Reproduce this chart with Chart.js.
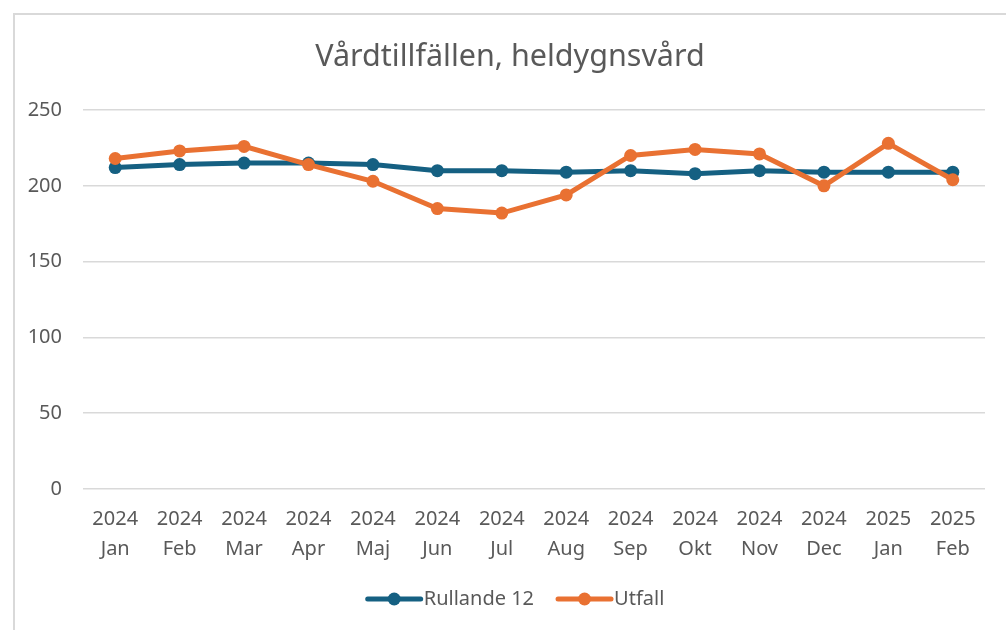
<!DOCTYPE html>
<html lang="sv">
<head>
<meta charset="utf-8">
<title>Vårdtillfällen, heldygnsvård</title>
<script src="https://cdn.jsdelivr.net/npm/chart.js@4.4.1/dist/chart.umd.min.js"></script>
<style>
  html, body { margin: 0; padding: 0; background: #fff; }
  body { width: 1006px; height: 630px; position: relative; overflow: hidden; }
  .frame {
    position: absolute; left: 13px; top: 13px; width: 1100px; height: 700px;
    border-left: 2px solid #d9d9d9; border-top: 2px solid #d9d9d9;
  }
  #chart { position: absolute; left: 0; top: 0; }
</style>
</head>
<body>
<div class="frame"></div>
<canvas id="chart" width="1006" height="630"></canvas>
<script>
// Data
const years = ['2024', '2024', '2024', '2024', '2024', '2024', '2024', '2024', '2024', '2024', '2024', '2024', '2025', '2025'];
const months = ['Jan', 'Feb', 'Mar', 'Apr', 'Maj', 'Jun', 'Jul', 'Aug', 'Sep', 'Okt', 'Nov', 'Dec', 'Jan', 'Feb'];
const rullande12 = [212, 214, 215, 215, 214, 210, 210, 209, 210, 208, 210, 209, 209, 209];
const utfall = [218, 223, 226, 214, 203, 185, 182, 194, 220, 224, 221, 200, 228, 204];
const yTicks = [0, 50, 100, 150, 200, 250];

const labels = years.map((y, i) => [y, months[i]]);

const BLUE = '#156082';
const ORANGE = '#E97132';
const TEXT = '#595959';
const FONT = "'Noto Sans', sans-serif";

// Title and legend sit a bit right of the plot centre in the original
const shiftBlocks = {
    id: 'shiftBlocks',
    afterLayout(chart) {
        if (chart.titleBlock) chart.titleBlock.left += 14;
        if (chart.legend) chart.legend.left += 12;
    }
};

// Legend markers: line with a dot, like Excel
const legendLineMarker = {
    id: 'legendLineMarker',
    afterDraw(chart) {
        const legend = chart.legend;
        if (!legend || !legend.legendHitBoxes) return;
        const ctx = chart.ctx;
        legend.legendHitBoxes.forEach((box, i) => {
            const ds = chart.data.datasets[legend.legendItems[i].datasetIndex];
            const y = box.top + box.height / 2;
            const x0 = box.left + 14;
            const x1 = x0 + 53;
            ctx.save();
            ctx.strokeStyle = ds.borderColor;
            ctx.lineWidth = 5;
            ctx.lineCap = 'round';
            ctx.beginPath();
            ctx.moveTo(x0, y);
            ctx.lineTo(x1, y);
            ctx.stroke();
            ctx.fillStyle = ds.borderColor;
            ctx.beginPath();
            ctx.arc((x0 + x1) / 2, y, 6.5, 0, Math.PI * 2);
            ctx.fill();
            ctx.restore();
        });
    }
};

new Chart(document.getElementById('chart'), {
    type: 'line',
    data: {
        labels: labels,
        datasets: [{
            label: 'Rullande 12',
            data: rullande12,
            borderColor: BLUE,
            backgroundColor: BLUE,
            borderWidth: 5,
            pointRadius: 6.5,
            pointBackgroundColor: BLUE,
            pointBorderWidth: 0,
            tension: 0,
            order: 1
        }, {
            label: 'Utfall',
            data: utfall,
            borderColor: ORANGE,
            backgroundColor: ORANGE,
            borderWidth: 5,
            pointRadius: 6.5,
            pointBackgroundColor: ORANGE,
            pointBorderWidth: 0,
            tension: 0,
            order: 0
        }]
    },
    options: {
        responsive: false,
        animation: false,
        layout: { padding: { top: 0, left: 21, right: 21, bottom: 11 } },
        plugins: {
            title: {
                display: true,
                text: 'Vårdtillfällen, heldygnsvård',
                color: TEXT,
                font: { family: FONT, size: 30.5, weight: 'normal', lineHeight: 1.2 },
                padding: { top: 39, bottom: 34.4 }
            },
            legend: {
                position: 'bottom',
                labels: {
                    color: TEXT,
                    font: { family: FONT, size: 20 },
                    boxWidth: 60,
                    boxHeight: 20,
                    padding: 10,
                    sort: (a, b) => a.datasetIndex - b.datasetIndex,
                    generateLabels: chart => Chart.defaults.plugins.legend.labels.generateLabels(chart).map(l => ({
                        ...l, fillStyle: 'rgba(0,0,0,0)', strokeStyle: 'rgba(0,0,0,0)', lineWidth: 0
                    }))
                }
            },
            tooltip: { enabled: false }
        },
        scales: {
            x: {
                offset: true,
                grid: { display: false, drawTicks: false },
                border: { display: false },
                ticks: {
                    color: TEXT,
                    padding: 15,
                    maxRotation: 0,
                    autoSkip: false,
                    font: { family: FONT, size: 20, lineHeight: 1.5 }
                }
            },
            y: {
                min: 0,
                max: 250,
                afterBuildTicks: scale => { scale.ticks = yTicks.map(v => ({ value: v })); },
                afterFit: scale => { scale.width = 62; },
                grid: { color: '#d9d9d9', lineWidth: 1.5, drawTicks: false },
                border: { display: false },
                ticks: {
                    color: TEXT,
                    padding: 21,
                    font: { family: FONT, size: 20 }
                }
            }
        }
    },
    plugins: [shiftBlocks, legendLineMarker]
});
</script>
</body>
</html>
